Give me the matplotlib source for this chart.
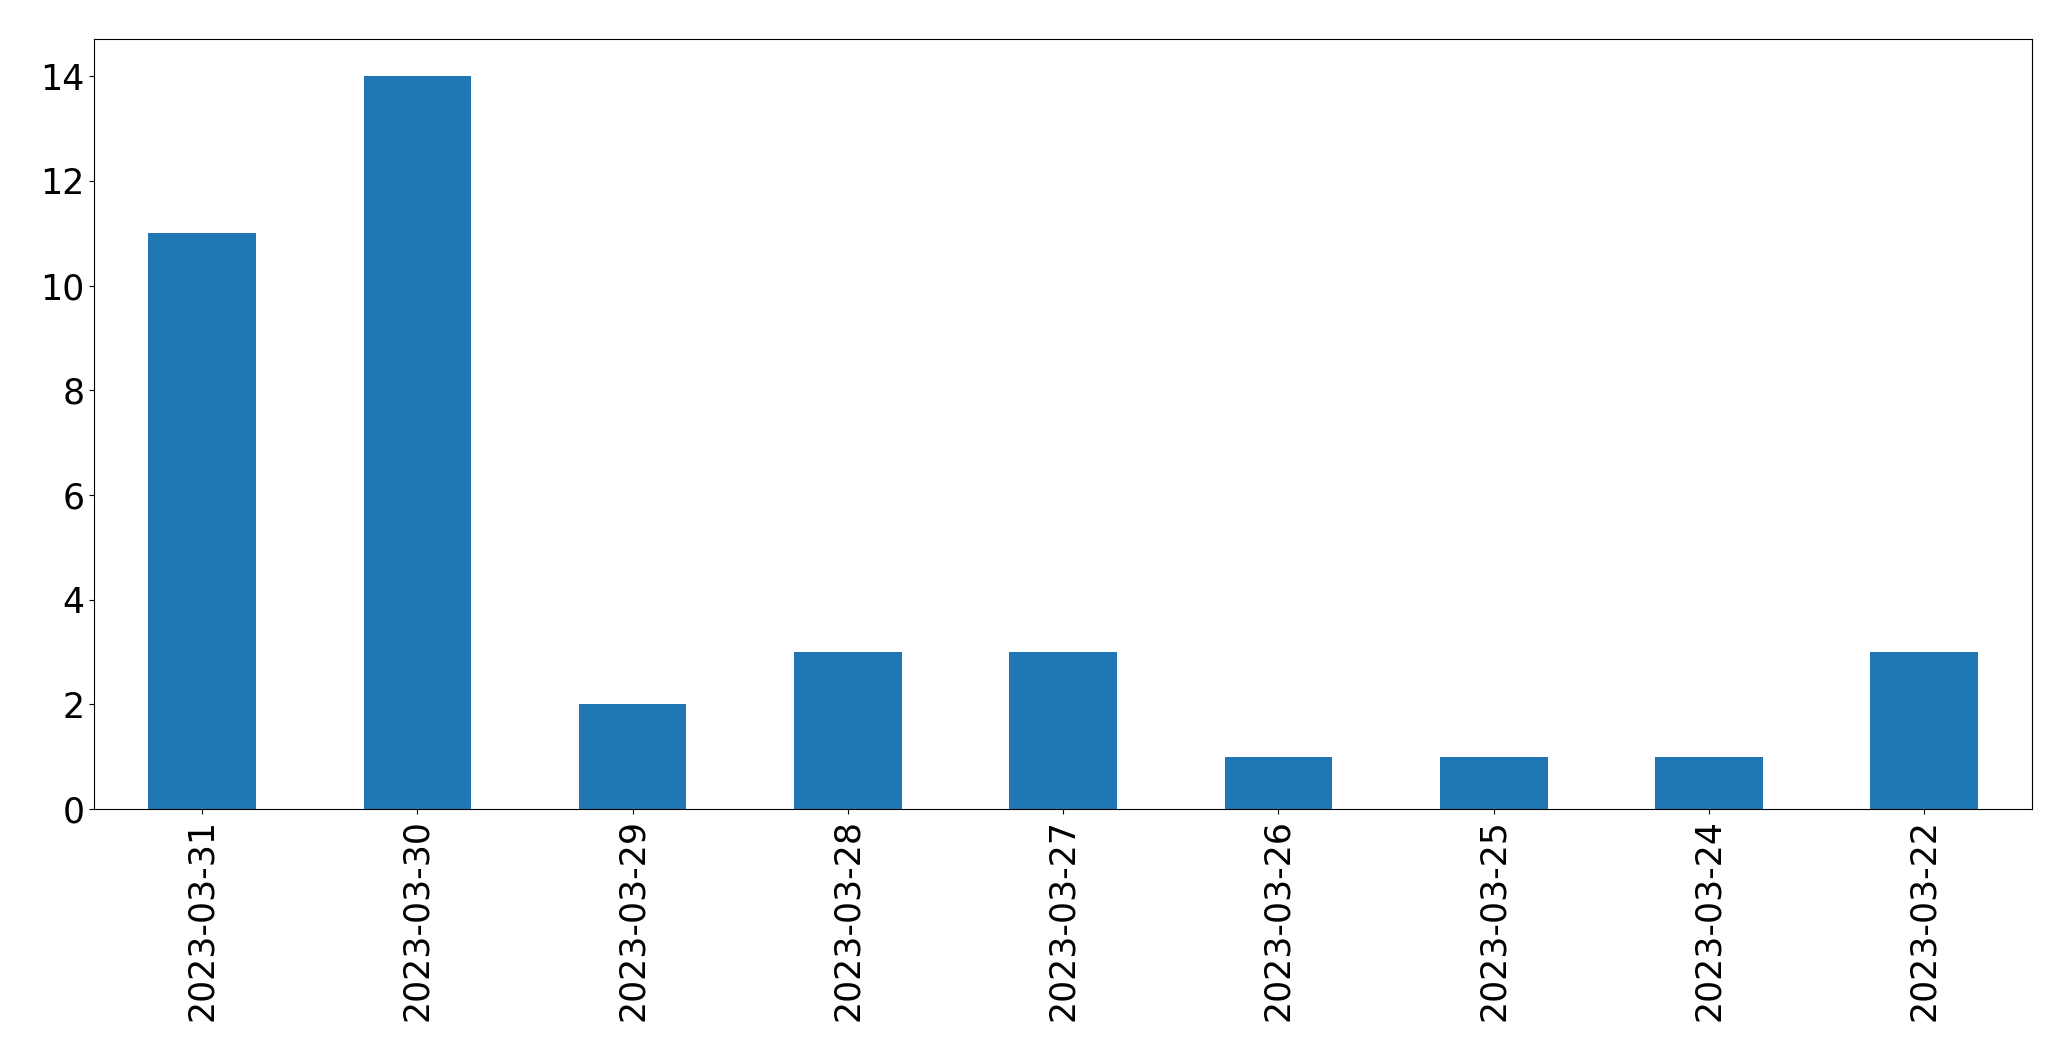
import matplotlib
matplotlib.use("Agg")
import matplotlib.pyplot as plt

# daily counts, newest first (as in the source)
dates = ["2023-03-31", "2023-03-30", "2023-03-29", "2023-03-28", "2023-03-27",
         "2023-03-26", "2023-03-25", "2023-03-24", "2023-03-22"]
counts = [11, 14, 2, 3, 3, 1, 1, 1, 3]

fig = plt.figure(figsize=(20.71, 10.61), dpi=100)
ax = fig.add_axes([0.0456, 0.2375, 0.9355, 0.7253])

x = list(range(len(dates)))
ax.bar(x, counts, width=0.5, color="#1f77b4")
ax.set_xlim(-0.5, len(dates) - 0.5)
ax.set_ylim(0, max(counts) * 1.05)
ax.set_xticks(x)
ax.set_xticklabels(dates, rotation=90)
ax.tick_params(axis="both", labelsize=25)

fig.savefig("out.png", dpi=100)
